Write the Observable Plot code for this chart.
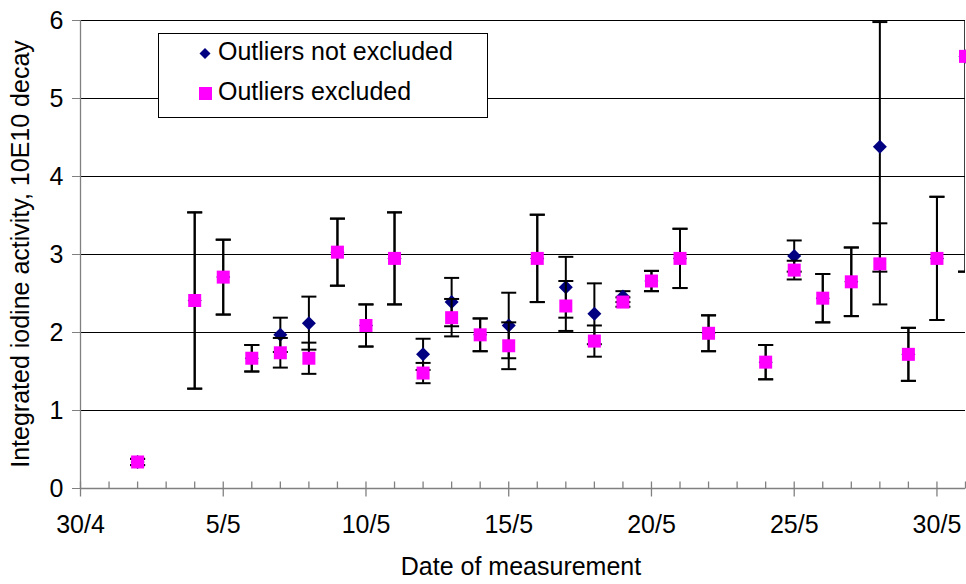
<!DOCTYPE html>
<html>
<head>
<meta charset="utf-8">
<script src="https://cdn.jsdelivr.net/npm/d3@7"></script>
<script src="https://cdn.jsdelivr.net/npm/@observablehq/plot@0.6"></script>
<style>
  html, body { margin: 0; padding: 0; background: #fff; overflow: hidden; }
  #chart { width: 966px; height: 584px; }
</style>
</head>
<body>
<div id="chart"></div>
<script>
// Measurement dates (day/month)
const dates = ["2/5","4/5","5/5","6/5","7/5","8/5","9/5","10/5","11/5","12/5","13/5","14/5","15/5","16/5",
               "17/5","18/5","19/5","20/5","21/5","22/5","24/5","25/5","26/5","27/5","28/5","29/5","30/5","31/5"];

// Integrated activity with outliers excluded, and its uncertainty
const excludedValue = [0.34,2.41,2.71,1.67,1.74,1.67,3.03,2.09,2.95,1.48,2.19,1.97,1.83,2.95,
                       2.34,1.89,2.39,2.66,2.95,1.99,1.62,2.80,2.44,2.65,2.88,1.72,2.95,5.54];
const excludedError = [0.04,1.13,0.48,0.17,0.19,0.20,0.43,0.27,0.59,0.13,0.24,0.21,0.30,0.56,
                       0.32,0.20,0.06,0.13,0.38,0.23,0.22,0.12,0.31,0.44,0.52,0.34,0.79,2.76];

// Integrated activity with outliers kept, and its uncertainty
const allValue = [0.34,2.41,2.71,1.67,1.97,2.12,3.03,2.09,2.95,1.72,2.39,1.97,2.09,2.95,
                  2.58,2.24,2.46,2.66,2.95,1.99,1.62,2.98,2.44,2.65,4.38,1.72,2.95,5.54];
const allError = [0.04,1.13,0.48,0.17,0.22,0.34,0.43,0.27,0.59,0.20,0.31,0.21,0.42,0.56,
                  0.39,0.39,0.07,0.13,0.38,0.23,0.22,0.20,0.31,0.44,1.60,0.34,0.79,2.76];

const xTickLabels = ["30/4","5/5","10/5","15/5","20/5","25/5","30/5"];
const xDomainLabels = ["30/4","31/5"];
const yTicks = [0,1,2,3,4,5,6];
const gridLines = [1,2,3,4,5,6];
const seriesNames = ["Outliers not excluded","Outliers excluded"];
const xTitle = "Date of measurement";
const yTitle = "Integrated iodine activity, 10E10 decay";

const parse = s => { const [d, m] = s.split("/").map(Number); return new Date(Date.UTC(2000, m - 1, d)); };
const fmt = d => `${d.getUTCDate()}/${d.getUTCMonth() + 1}`;

const rows = (values, errors) => dates.map((s, i) => ({
  date: parse(s), value: values[i], lo: values[i] - errors[i], hi: values[i] + errors[i]
}));
const allRows = rows(allValue, allError);
const exclRows = rows(excludedValue, excludedError);

const majorTicks = xTickLabels.map(parse);
const [x0, x1] = xDomainLabels.map(parse);
const minorTicks = d3.utcDay.range(x0, d3.utcDay.offset(x1, 1)).filter(d => !majorTicks.some(m => +m === +d));

// Glyphs used for markers, error-bar caps and axis ticks
const capSym = { draw(c) { c.moveTo(-7.5, 0); c.lineTo(7.5, 0); } };
const squareSym = { draw(c) { c.rect(-6.5, -6.5, 13, 13); } };
const diamondSym = { draw(c) { c.moveTo(0, -7); c.lineTo(7, 0); c.lineTo(0, 7); c.lineTo(-7, 0); c.closePath(); } };
const majorTickSym = { draw(c) { c.moveTo(0, -7); c.lineTo(0, 8); } };
const minorTickSym = { draw(c) { c.moveTo(0, 0); c.lineTo(0, -7); } };

const FONT = "'Liberation Sans', Arial, sans-serif";
const FS = 25;
const AXIS = "#808080";

const errorBars = (data) => [
  Plot.ruleX(data, { x: "date", y1: "lo", y2: "hi", stroke: "black", strokeWidth: 2, clip: true }),
  Plot.dot(data, { x: "date", y: "lo", symbol: capSym, stroke: "black", strokeWidth: 2, fill: "none", clip: true }),
  Plot.dot(data, { x: "date", y: "hi", symbol: capSym, stroke: "black", strokeWidth: 2, fill: "none", clip: true })
];

const plot = Plot.plot({
  width: 966,
  height: 584,
  marginLeft: 80,
  marginRight: 1,
  marginTop: 20,
  marginBottom: 96,
  style: { fontFamily: FONT, fontSize: FS + "px", background: "white", overflow: "visible" },
  x: { type: "utc", domain: [x0, x1] },
  y: { domain: [0, 6] },
  marks: [
    Plot.ruleY(gridLines, { stroke: "black", strokeWidth: 1 }),
    Plot.ruleX([x0], { stroke: AXIS, strokeWidth: 1.3 }),
    Plot.ruleY([0], { stroke: AXIS, strokeWidth: 1.3 }),
    Plot.axisY(yTicks, { tickSize: 8, tickPadding: 9, fontSize: FS, stroke: AXIS, fill: "black", tickFormat: d => String(d), label: null }),
    Plot.axisX(majorTicks, { tickSize: 0, tickPadding: 27, fontSize: FS, fill: "black", tickFormat: fmt, label: null }),
    Plot.dot(majorTicks, { x: d => d, y: () => 0, symbol: majorTickSym, stroke: AXIS, strokeWidth: 1.3, fill: "none" }),
    Plot.dot(minorTicks, { x: d => d, y: () => 0, symbol: minorTickSym, stroke: AXIS, strokeWidth: 1.3, fill: "none" }),
    ...errorBars(allRows),
    Plot.dot(allRows, { x: "date", y: "value", symbol: diamondSym, fill: "#000080", stroke: "none" }),
    ...errorBars(exclRows),
    Plot.dot(exclRows, { x: "date", y: "value", symbol: squareSym, fill: "#FF00FF", stroke: "none" })
  ]
});

const svg = d3.select(plot);

// Axis titles
svg.append("text")
  .attr("x", 521).attr("y", 575)
  .attr("text-anchor", "middle")
  .attr("font-family", FONT).attr("font-size", FS).attr("fill", "black")
  .text(xTitle);
svg.append("text")
  .attr("transform", "translate(29,254) rotate(-90)")
  .attr("text-anchor", "middle")
  .attr("font-family", FONT).attr("font-size", FS).attr("fill", "black")
  .text(yTitle);

// Legend box
const lg = svg.append("g").attr("text-anchor", "start");
lg.append("rect")
  .attr("x", 158.5).attr("y", 33.5).attr("width", 329).attr("height", 84)
  .attr("fill", "white").attr("stroke", "black").attr("stroke-width", 1);
lg.append("path")
  .attr("d", "M205,48L210.5,53.5L205,59L199.5,53.5Z")
  .attr("fill", "#000080");
lg.append("rect")
  .attr("x", 199).attr("y", 87).attr("width", 13).attr("height", 13)
  .attr("fill", "#FF00FF");
seriesNames.forEach((name, i) => {
  lg.append("text")
    .attr("x", 218).attr("y", 60 + 40 * i)
    .attr("text-anchor", "start")
    .attr("font-family", FONT).attr("font-size", FS).attr("fill", "black")
    .text(name);
});

document.getElementById("chart").appendChild(plot);
</script>
</body>
</html>
